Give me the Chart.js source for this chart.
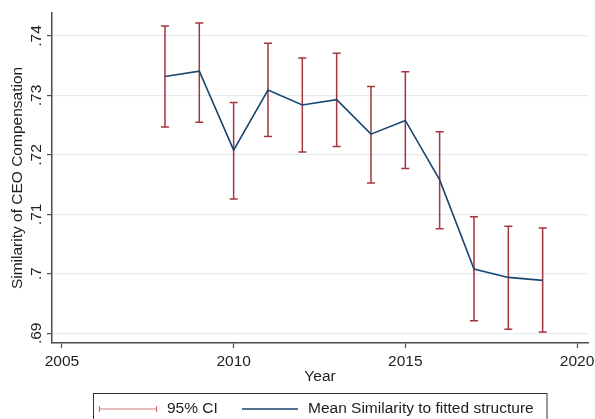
<!DOCTYPE html>
<html>
<head>
<meta charset="utf-8">
<script src="https://cdn.jsdelivr.net/npm/chart.js@4"></script>
<style>
  html, body { margin: 0; padding: 0; background: #fff; }
  canvas { display: block; }
</style>
</head>
<body>
<canvas id="c" width="595" height="419"></canvas>
<script>
// Mean similarity of CEO compensation to the fitted structure, by year, with 95% CI
const years    = [2008, 2009, 2010, 2011, 2012, 2013, 2014, 2015, 2016, 2017, 2018, 2019];
const meanSim  = [0.7332, 0.7341, 0.7208, 0.7309, 0.7284, 0.7293, 0.7235, 0.7258, 0.7158, 0.7008, 0.6994, 0.6989];
const ciUpper  = [0.7417, 0.7422, 0.7288, 0.7388, 0.7363, 0.7371, 0.7315, 0.7340, 0.7239, 0.7096, 0.7080, 0.7077];
const ciLower  = [0.7247, 0.7255, 0.7126, 0.7231, 0.7205, 0.7214, 0.7153, 0.7177, 0.7076, 0.6921, 0.6907, 0.6902];
const xTicks   = [2005, 2010, 2015, 2020];
const xTickLabels = ['2005', '2010', '2015', '2020'];
const yTicks   = [0.69, 0.70, 0.71, 0.72, 0.73, 0.74];
const yTickLabels = ['.69', '.7', '.71', '.72', '.73', '.74'];
const legendLabels = ['95% CI', 'Mean Similarity to fitted structure'];

const FONT = '"Liberation Sans", Arial, Helvetica, sans-serif';
const FSIZE = 15.5;
const NAVY = '#1a476f';
const MAROON = '#a2363e';
const AXIS = '#4d4d4d';
const GRID = '#e3edf1';
const TEXT = '#1e1e1e';

// Error bars drawn through the chart's own scales
const errorBars = {
  id: 'errorBars',
  beforeDatasetsDraw(chart) {
    const { ctx, scales: { x, y } } = chart;
    ctx.save();
    ctx.strokeStyle = MAROON;
    ctx.lineWidth = 1.5;
    const cap = 4;
    years.forEach((yr, i) => {
      const px = x.getPixelForValue(yr);
      const pu = y.getPixelForValue(ciUpper[i]);
      const pl = y.getPixelForValue(ciLower[i]);
      ctx.beginPath();
      ctx.moveTo(px, pu); ctx.lineTo(px, pl);
      ctx.moveTo(px - cap, pu); ctx.lineTo(px + cap, pu);
      ctx.moveTo(px - cap, pl); ctx.lineTo(px + cap, pl);
      ctx.stroke();
    });
    ctx.restore();
  }
};

// Tick labels (rotated on y) and the boxed legend below the axis
const decorations = {
  id: 'decorations',
  afterDraw(chart) {
    const { ctx, scales: { x, y } } = chart;
    ctx.save();
    ctx.fillStyle = TEXT;
    ctx.font = FSIZE + 'px ' + FONT;
    ctx.textAlign = 'center';
    ctx.textBaseline = 'middle';
    yTicks.forEach((v, i) => {
      const py = y.getPixelForValue(v);
      ctx.save();
      ctx.translate(37, py);
      ctx.rotate(-Math.PI / 2);
      ctx.fillText(yTickLabels[i], 0, 0);
      ctx.restore();
    });
    xTicks.forEach((v, i) => {
      ctx.fillText(xTickLabels[i], x.getPixelForValue(v), 362);
    });

    // legend
    const ly = 409;
    ctx.strokeStyle = '#333';
    ctx.lineWidth = 1;
    ctx.strokeRect(93.5, 393.5, 453.5, 40);

    ctx.strokeStyle = '#c9777c';
    ctx.lineWidth = 1.2;
    ctx.beginPath();
    ctx.moveTo(99, ly); ctx.lineTo(157, ly);
    ctx.moveTo(99.5, ly - 3); ctx.lineTo(99.5, ly + 3);
    ctx.moveTo(156.5, ly - 3); ctx.lineTo(156.5, ly + 3);
    ctx.stroke();

    ctx.strokeStyle = NAVY;
    ctx.lineWidth = 1.5;
    ctx.beginPath();
    ctx.moveTo(242, ly); ctx.lineTo(298, ly);
    ctx.stroke();

    ctx.fillStyle = TEXT;
    ctx.textAlign = 'left';
    ctx.fillText(legendLabels[0], 167, ly);
    ctx.fillText(legendLabels[1], 308, ly);
    ctx.restore();
  }
};

new Chart(document.getElementById('c'), {
  type: 'line',
  data: {
    datasets: [{
      label: legendLabels[1],
      data: years.map((yr, i) => ({ x: yr, y: meanSim[i] })),
      borderColor: NAVY,
      borderWidth: 1.6,
      pointRadius: 0,
      tension: 0,
      fill: false
    }]
  },
  options: {
    responsive: false,
    animation: false,
    devicePixelRatio: 1,
    layout: { padding: { left: 0, right: 7, top: 13, bottom: 26 } },
    plugins: { legend: { display: false }, tooltip: { enabled: false } },
    scales: {
      x: {
        type: 'linear',
        min: 2004.71,
        max: 2020.32,
        afterBuildTicks(s) { s.ticks = xTicks.map(v => ({ value: v })); },
        afterFit(s) { s.height = 50; },
        grid: { drawOnChartArea: false, drawTicks: true, tickLength: 5, tickColor: AXIS, tickWidth: 1.2 },
        border: { display: true, color: AXIS, width: 1.5 },
        ticks: { display: false },
        title: {
          display: true, text: 'Year', color: TEXT,
          font: { family: FONT, size: FSIZE },
          padding: { top: 0, bottom: 6.5 }
        }
      },
      y: {
        min: 0.68837,
        max: 0.74387,
        afterBuildTicks(s) { s.ticks = yTicks.map(v => ({ value: v })); },
        afterFit(s) { s.width = 52; },
        grid: { color: GRID, lineWidth: 1.2, drawTicks: true, tickLength: 5, tickColor: AXIS, tickWidth: 1.2 },
        border: { display: true, color: AXIS, width: 1.5 },
        ticks: { display: false },
        title: {
          display: true, text: 'Similarity of CEO Compensation', color: TEXT,
          font: { family: FONT, size: FSIZE },
          padding: { top: 8, bottom: 0 }
        }
      }
    }
  },
  plugins: [errorBars, decorations]
});
</script>
</body>
</html>
